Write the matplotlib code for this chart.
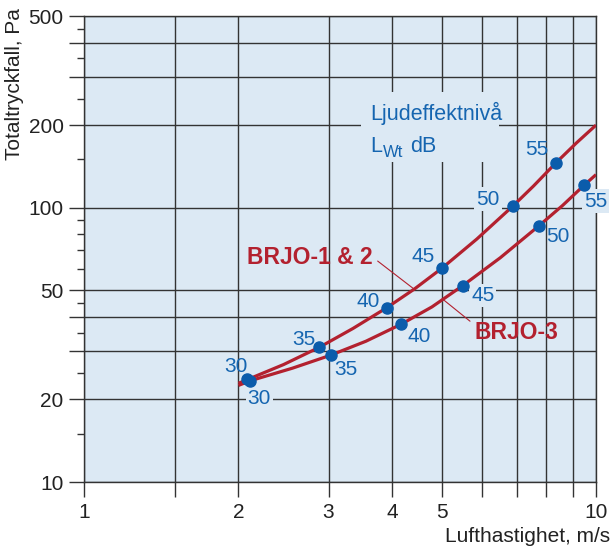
import matplotlib
matplotlib.use("Agg")
import matplotlib.pyplot as plt
from matplotlib.patches import Rectangle
from matplotlib.ticker import NullFormatter

plt.rcParams['font.family'] = ['Liberation Sans', 'DejaVu Sans']

# curves (velocity m/s, pressure drop Pa)
brjo12_x = [2.0, 2.09, 2.45, 2.88, 3.35, 3.9, 4.42, 5.0, 5.85, 6.88, 7.55, 8.34, 9.15, 10.0]
brjo12_y = [22.9, 23.7, 26.8, 31.0, 36.3, 43.2, 50.6, 60.2, 76.9, 101.4, 120.0, 145.4, 172.0, 200.0]
brjo3_x = [2.0, 2.11, 2.55, 3.03, 3.55, 4.16, 4.78, 5.49, 6.5, 7.74, 8.6, 9.49, 10.0]
brjo3_y = [22.5, 23.4, 26.0, 29.0, 32.6, 37.6, 43.5, 52.0, 65.7, 86.0, 101.8, 121.0, 132.0]

# sound power level points
levels = [30, 35, 40, 45, 50, 55]
brjo12_v = [2.08, 2.88, 3.9, 5.0, 6.88, 8.34]
brjo12_p = [23.7, 31.0, 43.2, 60.2, 101.4, 145.4]
brjo3_v = [2.11, 3.03, 4.16, 5.49, 7.74, 9.49]
brjo3_p = [23.4, 29.0, 37.6, 52.0, 86.0, 121.0]

x_ticks = [1, 1.5, 2, 3, 4, 5, 6, 7, 8, 9, 10]
x_labels = ['1', '', '2', '3', '4', '5', '', '', '', '', '10']
y_ticks = [10, 20, 30, 40, 50, 100, 200, 300, 400, 500]
y_labels = ['10', '20', '', '', '50', '100', '200', '', '', '500']
y_minor = [15, 25, 35, 45, 60, 70, 80, 90, 150, 250, 350, 450]

bg = '#dce9f4'
red = '#b3212f'
blue = '#0b5cab'
txt_blue = '#1565b0'
dark = '#333333'

fig = plt.figure(figsize=(6.13, 5.52), dpi=100)
ax = fig.add_axes([0.1378, 0.1268, 0.8344, 0.8442])
ax.set_facecolor(bg)
ax.set_xscale('log')
ax.set_yscale('log')
ax.set_xlim(1, 10)
ax.set_ylim(10, 500)
ax.set_axisbelow(True)

ax.set_xticks(x_ticks, labels=x_labels)
ax.set_xticks([], minor=True)
ax.set_yticks(y_ticks, labels=y_labels)
ax.set_yticks(y_minor, minor=True)
ax.xaxis.set_minor_formatter(NullFormatter())
ax.yaxis.set_minor_formatter(NullFormatter())
ax.tick_params(which='major', direction='out', length=11, width=1, color=dark,
               labelsize=15, labelcolor='#222222', pad=4)
ax.tick_params(which='minor', direction='out', length=5, width=1, color=dark)
ax.grid(True, which='major', color=dark, lw=1)
for s in ax.spines.values():
    s.set_color(dark)
    s.set_linewidth(1)

ax.set_xlabel('Lufthastighet, m/s', fontsize=15, color='#222222', loc='right')
ax.xaxis.set_label_coords(1.027, -0.097)
fig.text(15 / 613, 1 - 8 / 552, 'Totaltryckfall, Pa', rotation=90, fontsize=15,
         color='#222222', ha='center', va='top')

# box behind the "Ljudeffektnivå" note
ax.add_patch(Rectangle((3.47, 147), 6.46 - 3.47, 264 - 147, facecolor=bg,
                       edgecolor='none', zorder=1))
ax.text(3.62, 209, 'Ljudeffektnivå', fontsize=15.5, color=txt_blue,
        ha='left', va='baseline', zorder=5)
ax.text(3.62, 159.4, 'L', fontsize=15.5, color=txt_blue,
        ha='left', va='baseline', zorder=5)
ax.annotate('Wt', (3.62, 159.4), xytext=(12.5, -4.5), textcoords='offset pixels',
            fontsize=12, color=txt_blue, ha='left', va='baseline', zorder=5)
ax.annotate('dB', (3.62, 159.4), xytext=(39.5, 0), textcoords='offset pixels',
            fontsize=15.5, color=txt_blue, ha='left', va='baseline', zorder=5)

ax.plot(brjo12_x, brjo12_y, color=red, lw=2.3, zorder=4, solid_capstyle='butt')
ax.plot(brjo3_x, brjo3_y, color=red, lw=2.3, zorder=4, solid_capstyle='butt')
ax.plot(brjo12_v, brjo12_p, 'o', color=blue, ms=8, zorder=6)
ax.plot(brjo3_v, brjo3_p, 'o', color=blue, ms=8, zorder=6)

# label offsets in pixels from each dot
off12 = [(-11, 13), (-16, 8), (-19, 6), (-19, 12), (-25, 7), (-19, 14)]
off3 = [(9, -18), (15, -14), (18, -12), (20, -10), (19, -11), (11, -16)]
boxed12 = [False, False, False, False, True, False]
boxed3 = [True, False, False, True, False, True]

for lv, v, p, o, b in zip(levels, brjo12_v, brjo12_p, off12, boxed12):
    ax.annotate(str(lv), (v, p), xytext=o, textcoords='offset pixels',
                ha='center', va='center', fontsize=15, color=txt_blue, zorder=5,
                bbox=dict(facecolor=bg, edgecolor='none', pad=1.5) if b else None)
for lv, v, p, o, b in zip(levels, brjo3_v, brjo3_p, off3, boxed3):
    ax.annotate(str(lv), (v, p), xytext=o, textcoords='offset pixels',
                ha='center', va='center', fontsize=15, color=txt_blue, zorder=5,
                bbox=dict(facecolor=bg, edgecolor='none', pad=1.5) if b else None)

ax.annotate('BRJO-1 & 2', xy=(4.41, 50.5), xytext=(3.66, 66), ha='right', va='center',
            fontsize=16.5, fontweight='bold', color=red, zorder=5,
            arrowprops=dict(arrowstyle='-', color=red, lw=0.8, relpos=(1, 0.5),
                            shrinkA=2, shrinkB=0))
ax.annotate('BRJO-3', xy=(5.01, 46.5), xytext=(5.8, 35.2), ha='left', va='center',
            fontsize=16.5, fontweight='bold', color=red, zorder=5,
            arrowprops=dict(arrowstyle='-', color=red, lw=0.8, relpos=(0, 0.8),
                            shrinkA=2, shrinkB=0))

fig.savefig('out.png', dpi=100)
